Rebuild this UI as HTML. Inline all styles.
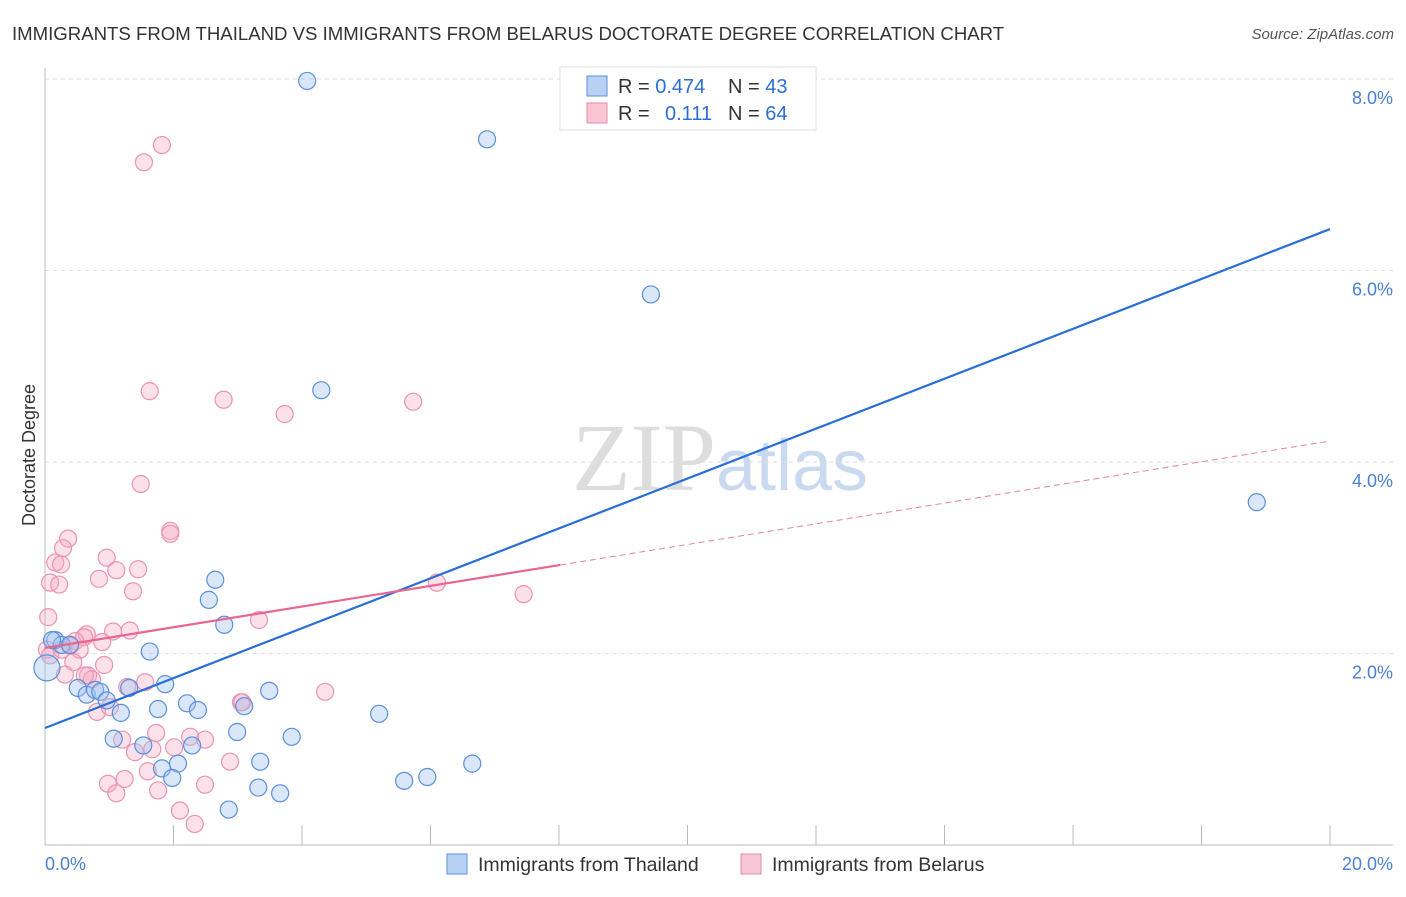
<!DOCTYPE html>
<html><head><meta charset="utf-8"><style>
body{margin:0;background:#fff;font-family:"Liberation Sans",sans-serif}
</style></head><body>
<svg width="1406" height="892" viewBox="0 0 1406 892" xmlns="http://www.w3.org/2000/svg">
<text x="12" y="40" font-size="18.6" fill="#333">IMMIGRANTS FROM THAILAND VS IMMIGRANTS FROM BELARUS DOCTORATE DEGREE CORRELATION CHART</text>
<text x="1394" y="39" font-size="15" fill="#555" font-style="italic" text-anchor="end">Source: ZipAtlas.com</text>
<text x="720" y="490" font-size="96" fill="#ddd" text-anchor="middle" font-family="Liberation Serif">ZIP<tspan fill="#c9daf0" font-family="Liberation Sans" font-size="72">atlas</tspan></text>
<g id="grid"></g>
<line x1="45" y1="68" x2="45" y2="845" stroke="#bbb"/>
<line x1="45" y1="845" x2="1393" y2="845" stroke="#bbb"/>
<text x="35" y="455" font-size="18" fill="#333" text-anchor="middle" transform="rotate(-90 35 455)">Doctorate Degree</text>
<text x="45" y="870" font-size="18" fill="#4a7fd6">0.0%</text>
<text x="1393" y="870" font-size="18" fill="#4a7fd6" text-anchor="end">20.0%</text>
<g id="pts"></g>
<g id="lines"></g>
<g>
<rect x="560" y="67" width="256" height="63" fill="#fff" stroke="#ddd"/>
<rect x="587" y="76" width="20" height="20" fill="#b8d0f2" stroke="#5b8fdc"/>
<rect x="587" y="103" width="20" height="20" fill="#f8c6d4" stroke="#e88aa8"/>
<text x="618" y="93" font-size="20" fill="#333">R = <tspan fill="#2a6fd6">0.474</tspan><tspan x="728">N = </tspan><tspan fill="#2a6fd6">43</tspan></text>
<text x="618" y="120" font-size="20" fill="#333">R = <tspan fill="#2a6fd6" x="665">0.111</tspan><tspan x="728">N = </tspan><tspan fill="#2a6fd6">64</tspan></text>
</g>
<g>
<rect x="447" y="854" width="20" height="20" fill="#b8d0f2" stroke="#5b8fdc"/>
<text x="478" y="871" font-size="19.5" fill="#333">Immigrants from Thailand</text>
<rect x="741" y="854" width="20" height="20" fill="#f8c6d4" stroke="#e88aa8"/>
<text x="772" y="871" font-size="19.5" fill="#333">Immigrants from Belarus</text>
</g>
</svg>
<script>
const yTicks=[2,4,6,8];
const xTicks=[0,2,4,6,8,10,12,14,16,18,20];
const thaiX=[4.08,6.88,9.43,4.30,18.86,2.65,2.55,2.79,1.63,0.16,0.03,0.26,0.39,0.51,0.65,0.78,0.86,0.96,1.18,1.31,1.87,1.76,2.21,2.38,3.10,2.99,3.49,2.29,1.07,1.53,3.84,5.20,2.07,1.82,1.98,3.35,3.32,3.66,2.86,5.59,5.95,6.65,0.11];
const thaiY=[7.98,7.37,5.75,4.75,3.58,2.77,2.56,2.30,2.02,2.14,1.85,2.09,2.09,1.64,1.57,1.62,1.60,1.51,1.38,1.64,1.68,1.42,1.48,1.41,1.45,1.18,1.61,1.04,1.11,1.04,1.13,1.37,0.85,0.80,0.70,0.87,0.60,0.54,0.37,0.67,0.71,0.85,2.14];
const belX=[1.82,1.54,1.63,2.78,3.73,5.73,1.49,1.95,1.95,0.36,0.28,0.16,0.25,0.08,0.22,0.96,0.84,1.11,1.45,1.37,0.05,1.32,1.06,0.65,0.61,0.47,0.39,0.54,0.89,0.03,0.44,0.92,0.67,0.73,0.62,0.31,0.81,1.01,1.28,1.56,3.33,6.1,7.45,4.36,3.05,1.2,1.73,1.4,1.67,2.01,2.26,2.49,2.88,1.6,1.24,0.98,1.11,1.76,2.49,2.1,2.33,3.07,0.08,0.26];
const belY=[7.31,7.13,4.74,4.65,4.5,4.63,3.77,3.28,3.25,3.2,3.1,2.95,2.93,2.74,2.72,3.0,2.78,2.87,2.88,2.65,2.38,2.24,2.23,2.2,2.17,2.13,2.08,2.04,2.12,2.04,1.91,1.88,1.77,1.73,1.77,1.78,1.39,1.44,1.65,1.7,2.35,2.74,2.62,1.6,1.49,1.1,1.17,0.97,1.0,1.02,1.13,1.1,0.87,0.77,0.69,0.64,0.54,0.57,0.63,0.36,0.22,1.49,1.98,2.04];
const thaiFit=[1.222,6.433];
const belFit=[2.058,4.219];
const belSolidEnd=8.02;
const X=v=>45+v/20*1285, Y=v=>845-v*95.75;
const NS='http://www.w3.org/2000/svg';
function mk(t,a,p){const e=document.createElementNS(NS,t);for(const k in a)e.setAttribute(k,a[k]);p.appendChild(e);return e;}
const gridG=document.getElementById('grid');
yTicks.forEach(t=>{
const l=mk('line',{x1:45,x2:1393,y1:Y(t),y2:Y(t),stroke:'#ddd','stroke-dasharray':'4,4'},gridG);


const tx=mk('text',{x:1393,y:Y(t)+25,'font-size':18,fill:'#4a7fd6','text-anchor':'end'},gridG);
tx.textContent=t.toFixed(1)+'%';


});
xTicks.forEach(t=>{
const l=mk('line',{x1:X(t),x2:X(t),y1:825,y2:845,stroke:'#bbb'},gridG);


});
const ptsG=document.getElementById('pts');
belX.forEach((x,i)=>{
const c=mk('circle',{cx:X(x),cy:Y(belY[i]),r:8.5,fill:'rgba(246,170,195,0.35)',stroke:'#eb93b0','stroke-width':1.2},ptsG);


});
thaiX.forEach((x,i)=>{
const c=mk('circle',{cx:X(x),cy:Y(thaiY[i]),r:i==10?13:8.5,fill:'rgba(160,195,240,0.4)',stroke:'#5b8fdc','stroke-width':1.2},ptsG);


});
const linesG=document.getElementById('lines');
const bf=x=>belFit[0]+(belFit[1]-belFit[0])*x/20;
const l1=mk('line',{x1:X(0),y1:Y(thaiFit[0]),x2:X(20),y2:Y(thaiFit[1]),stroke:'#2a6fd6','stroke-width':2.2},linesG);


const l2=mk('line',{x1:X(0),y1:Y(bf(0)),x2:X(belSolidEnd),y2:Y(bf(belSolidEnd)),stroke:'#e8668f','stroke-width':2.2},linesG);


const l3=mk('line',{x1:X(belSolidEnd),y1:Y(bf(belSolidEnd)),x2:X(20),y2:Y(bf(20)),stroke:'#e8809f','stroke-width':1,'stroke-dasharray':'6,4'},linesG);


</script>
</body></html>
